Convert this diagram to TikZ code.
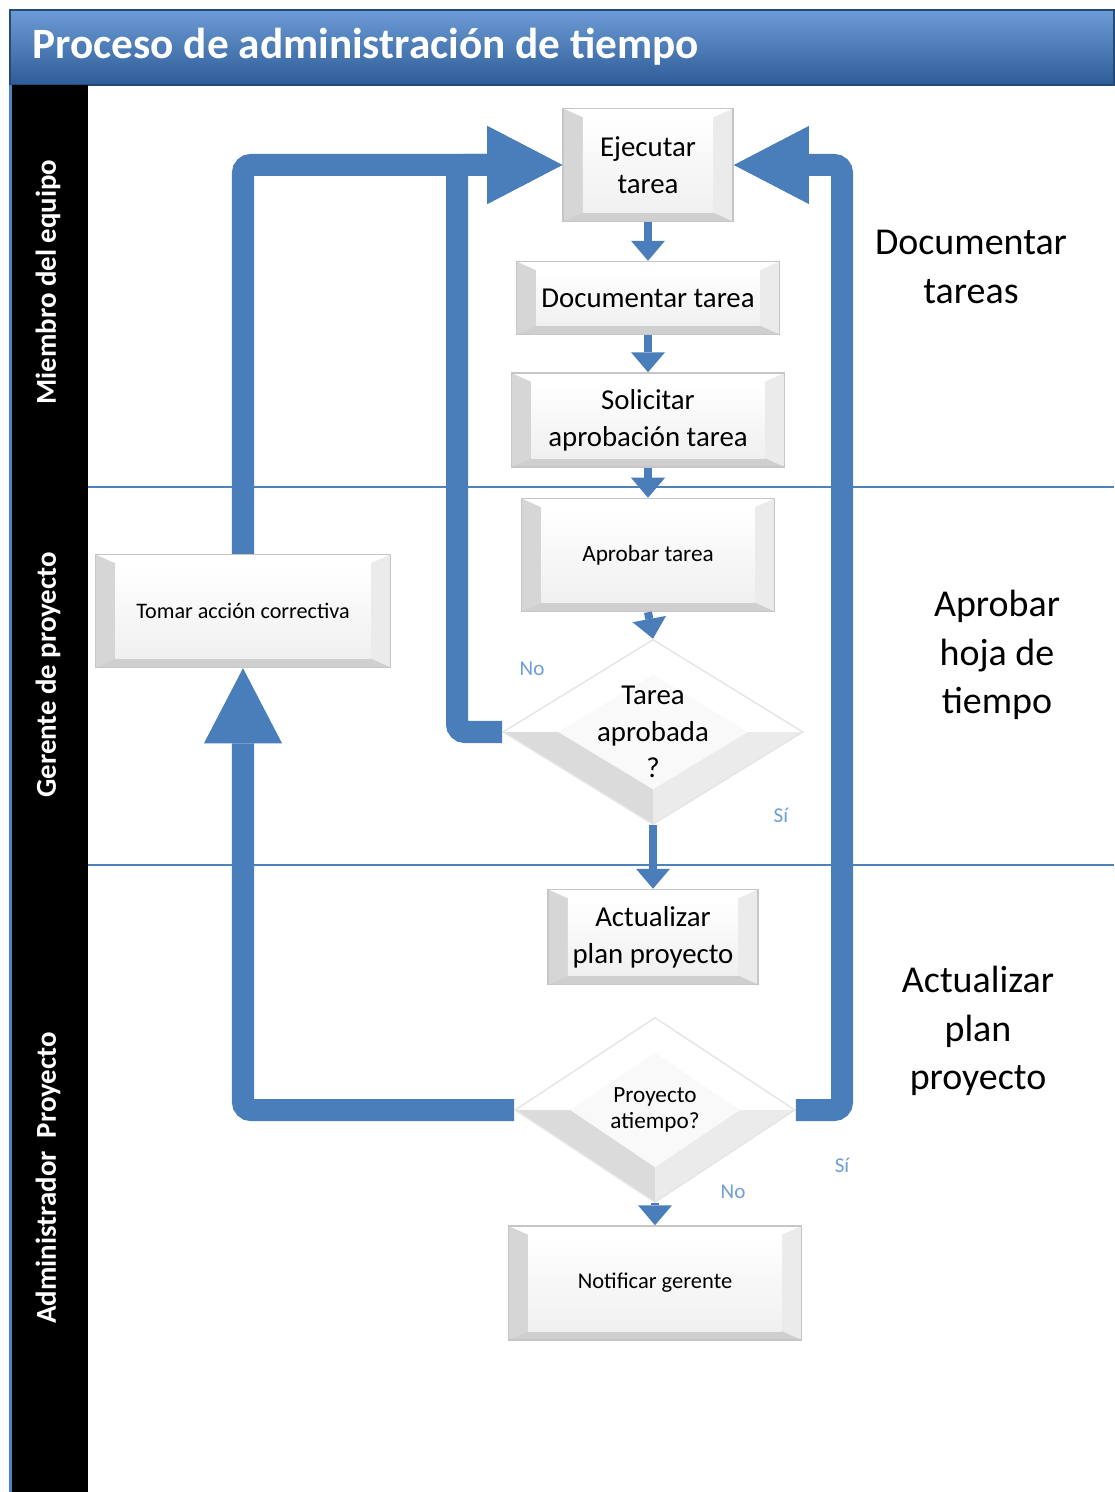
\documentclass[tikz,border=0pt]{standalone}
\usepackage{fontspec}
\setmainfont{Carlito}
\usepackage{tikz}
\usetikzlibrary{arrows.meta,shapes.geometric}
\definecolor{flujo}{HTML}{4A7EBB}
\definecolor{carril}{HTML}{4F81BD}
\definecolor{etiq}{HTML}{6F9FD8}
\definecolor{tituloA}{HTML}{6C9BD6}
\definecolor{tituloB}{HTML}{2D5C97}

\begin{document}
\begin{tikzpicture}[x=0.01cm,y=-0.01cm]
  \tikzstyle{caja}=[rectangle, draw=gray!45, line width=0.4pt, fill=gray!6, align=center, inner sep=0pt,
    font=\fontsize{8.2}{10.6}\selectfont,
    path picture={
      \coordinate (bsw) at (path picture bounding box.south west);
      \coordinate (bne) at (path picture bounding box.north east);
      \coordinate (bnw) at (path picture bounding box.north west);
      \coordinate (bse) at (path picture bounding box.south east);
      \coordinate (isw) at ([shift={(0.2cm,0.09cm)}]bsw);
      \coordinate (ine) at ([shift={(-0.2cm,-0.09cm)}]bne);
      \coordinate (inw) at ([shift={(0.2cm,-0.09cm)}]bnw);
      \coordinate (ise) at ([shift={(-0.2cm,0.09cm)}]bse);
      \fill[white] (bnw) -- (bne) -- (ine) -- (inw) -- cycle;
      \fill[gray!32] (bnw) -- (inw) -- (isw) -- (bsw) -- cycle;
      \fill[gray!16] (bne) -- (ine) -- (ise) -- (bse) -- cycle;
      \fill[gray!38] (bsw) -- (isw) -- (ise) -- (bse) -- cycle;
      \shade[top color=white, bottom color=gray!12] (inw) rectangle (ise);
    }]
  \tikzstyle{rombo}=[diamond, draw=gray!20, line width=0.4pt, fill=white, inner sep=0pt,
    path picture={
      \fill[gray!28] (path picture bounding box.west) -- (path picture bounding box.center) -- (path picture bounding box.south) -- cycle;
      \fill[gray!16] (path picture bounding box.south) -- (path picture bounding box.center) -- (path picture bounding box.east) -- cycle;
      \fill[gray!5] ([xshift=0.55cm]path picture bounding box.west) -- ([yshift=-0.35cm]path picture bounding box.north)
        -- ([xshift=-0.55cm]path picture bounding box.east) -- ([yshift=0.35cm]path picture bounding box.south) -- cycle;
    }]
  \tikzstyle{flecha}=[draw=flujo, line width=0.08cm, -{Triangle[length=0.2cm,width=0.34cm,line width=0pt]}]
  \tikzstyle{lazo}=[draw=flujo, line width=0.22cm, rounded corners=0.08cm, -{Triangle[length=0.75cm,width=0.78cm,line width=0pt]}]
  \tikzstyle{carriltxt}=[rotate=90, text=white, font=\bfseries\fontsize{8.2}{10}\selectfont]
  \tikzstyle{lado}=[align=center, font=\fontsize{10.8}{13.7}\selectfont]
  \tikzstyle{etiqueta}=[text=etiq, font=\fontsize{6}{7}\selectfont]

  \fill[white] (0,0) rectangle (1114,1492);
  \useasboundingbox (0,0) rectangle (1114,1492);

  \shade[top color=tituloA, bottom color=tituloB, draw=tituloB!80!black] (10,10) rectangle (1114,85);
  \path (32,47) node[anchor=west, inner sep=0pt, text=white, font=\bfseries\fontsize{12.3}{14}\selectfont] (titulo) {Proceso de administración de tiempo};
  \fill[black] (12,85) rectangle (88,1492);
  \fill[carril] (9,85) rectangle (12,1492);
  \draw[carril, line width=0.015cm] (88,487) -- (1114,487)
                                    (88,865) -- (1114,865);

  \path (48,282) node[carriltxt] (miembro) {Miembro del equipo};
  \path (48,675) node[carriltxt] (gerente) {Gerente de proyecto};
  \path (48,1178) node[carriltxt] (admin) {Administrador\ \ Proyecto};

  \path (648,165) node[caja, minimum width=1.7cm, minimum height=1.13cm] (ejec) {Ejecutar\\tarea};
  \path (648,298) node[caja, minimum width=2.63cm, minimum height=0.73cm] (docu) {Documentar tarea};
  \path (648,420) node[caja, minimum width=2.73cm, minimum height=0.94cm] (soli) {Solicitar\\aprobación tarea};
  \path (648,555) node[caja, minimum width=2.53cm, minimum height=1.13cm, font=\fontsize{6.6}{8}\selectfont] (apro) {Aprobar tarea};
  \path (653,732) node[rombo, minimum width=3cm, minimum height=1.85cm,
    label={[align=center, font=\fontsize{8.2}{10.3}\selectfont]center:Tarea\\aprobada\\?}] (dec1) {};
  \path (653,937) node[caja, minimum width=2.1cm, minimum height=0.95cm] (actu) {Actualizar\\plan proyecto};
  \path (655,1110) node[rombo, minimum width=2.8cm, minimum height=1.85cm,
    label={[align=center, font=\fontsize{6.6}{7.2}\selectfont]center:Proyecto\\atiempo?}] (dec2) {};
  \path (655,1283) node[caja, minimum width=2.93cm, minimum height=1.14cm, font=\fontsize{6.4}{8}\selectfont] (noti) {Notificar gerente};
  \path (243,611) node[caja, minimum width=2.95cm, minimum height=1.13cm, font=\fontsize{6.3}{8}\selectfont] (toma) {Tomar acción correctiva};

  \path (971,267) node[lado] (ladoA) {Documentar\\tareas};
  \path (997,655) node[lado] (ladoB) {Aprobar\\hoja de\\tiempo};
  \path (978,1031) node[lado] (ladoC) {Actualizar\\plan\\proyecto};

  \path (532,669) node[etiqueta] (no1) {No};
  \path (781,815) node[etiqueta] (si1) {Sí};
  \path (842,1165) node[etiqueta] (si2) {Sí};
  \path (733,1192) node[etiqueta] (no2) {No};

  \coordinate (izq) at (457,165);
  \coordinate (der) at (842,165);

  \draw[flecha] (ejec.south) -- (docu.north);
  \draw[flecha] (docu.south) -- (soli.north);
  \draw[flecha] (soli.south) -- (apro.north);
  \draw[flecha] (apro.south) -- (dec1.north);
  \draw[flecha] (dec1.south) -- (actu.north);
  \draw[flecha] (dec2.south) -- (noti.north);

  \draw[lazo] (toma.north) |- (ejec.west);
  \draw[lazo] (dec1.west) -| (izq) -- (ejec.west);
  \draw[lazo] (dec2.west) -| (toma.south);
  \draw[lazo] (dec2.east) -| (der) -- (ejec.east);
\end{tikzpicture}
\end{document}
